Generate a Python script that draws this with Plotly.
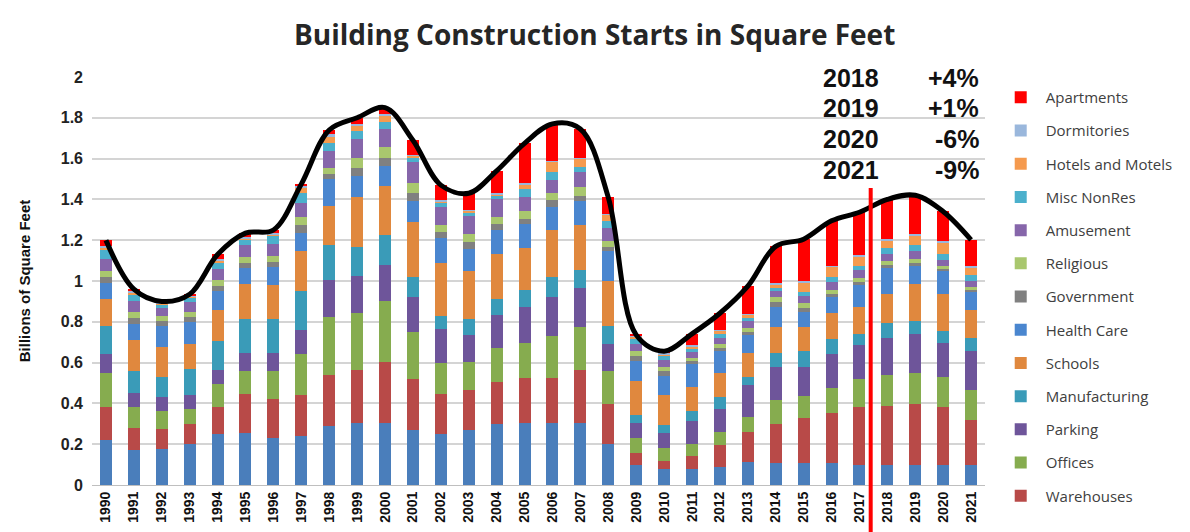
import numpy as np
import plotly.graph_objects as go

years = [str(y) for y in range(1990, 2022)]

# Series values in billions of sq ft (bottom of stack first)
stores        = [0.22,0.17,0.175,0.20,0.25,0.255,0.23,0.24,0.29,0.305,0.305,0.27,0.25,0.27,0.30,0.305,0.305,0.305,0.20,0.10,0.077,0.077,0.09,0.115,0.11,0.11,0.11,0.10,0.10,0.10,0.10,0.10]
warehouses    = [0.16,0.11,0.10,0.10,0.13,0.19,0.19,0.20,0.25,0.26,0.30,0.25,0.195,0.195,0.205,0.22,0.22,0.26,0.195,0.057,0.04,0.065,0.105,0.145,0.19,0.22,0.245,0.28,0.285,0.295,0.28,0.22]
offices       = [0.17,0.10,0.09,0.075,0.115,0.115,0.14,0.20,0.285,0.28,0.295,0.23,0.155,0.14,0.165,0.17,0.205,0.21,0.165,0.074,0.065,0.057,0.065,0.075,0.115,0.105,0.12,0.14,0.155,0.155,0.147,0.147]
parking       = [0.09,0.07,0.065,0.065,0.07,0.085,0.085,0.12,0.18,0.18,0.18,0.17,0.165,0.13,0.165,0.18,0.19,0.19,0.13,0.074,0.074,0.115,0.115,0.155,0.165,0.145,0.165,0.165,0.18,0.19,0.17,0.19]
manufacturing = [0.14,0.11,0.10,0.13,0.14,0.17,0.17,0.19,0.17,0.14,0.145,0.10,0.065,0.08,0.075,0.08,0.10,0.09,0.09,0.04,0.04,0.05,0.057,0.04,0.065,0.075,0.075,0.057,0.075,0.065,0.057,0.065]
schools       = [0.13,0.15,0.145,0.12,0.155,0.17,0.165,0.195,0.195,0.245,0.24,0.27,0.26,0.235,0.22,0.205,0.23,0.22,0.22,0.163,0.147,0.115,0.115,0.115,0.13,0.12,0.13,0.13,0.14,0.18,0.18,0.135]
health_care   = [0.08,0.08,0.105,0.11,0.09,0.08,0.09,0.09,0.13,0.105,0.10,0.10,0.12,0.105,0.12,0.12,0.115,0.115,0.145,0.10,0.09,0.115,0.11,0.09,0.10,0.075,0.075,0.11,0.13,0.09,0.115,0.09]
government    = [0.03,0.03,0.025,0.025,0.025,0.025,0.025,0.04,0.025,0.04,0.04,0.04,0.03,0.035,0.03,0.025,0.03,0.025,0.02,0.025,0.025,0.015,0.015,0.015,0.02,0.02,0.015,0.015,0.015,0.015,0.01,0.01]
religious     = [0.03,0.03,0.025,0.025,0.03,0.03,0.03,0.04,0.03,0.05,0.05,0.05,0.035,0.04,0.035,0.04,0.035,0.045,0.03,0.025,0.02,0.015,0.02,0.02,0.025,0.02,0.02,0.02,0.02,0.02,0.015,0.015]
amusement     = [0.06,0.05,0.04,0.045,0.055,0.055,0.055,0.065,0.08,0.09,0.09,0.105,0.09,0.09,0.085,0.065,0.065,0.075,0.065,0.033,0.033,0.03,0.03,0.035,0.03,0.035,0.04,0.035,0.03,0.035,0.03,0.03]
misc_nonres   = [0.04,0.03,0.015,0.02,0.03,0.025,0.04,0.05,0.04,0.04,0.035,0.02,0.015,0.015,0.015,0.04,0.04,0.025,0.035,0.025,0.02,0.015,0.02,0.015,0.015,0.02,0.025,0.02,0.03,0.03,0.03,0.025]
hotels        = [0.01,0.01,0.005,0.01,0.01,0.01,0.01,0.025,0.03,0.025,0.03,0.01,0.01,0.01,0.01,0.025,0.05,0.04,0.03,0.01,0.01,0.01,0.015,0.015,0.02,0.05,0.05,0.05,0.04,0.05,0.055,0.04]
dormitories   = [0.01,0.01,0.005,0.005,0.01,0.005,0.005,0.01,0.015,0.01,0.01,0.005,0.005,0.005,0.005,0.005,0.005,0.005,0.005,0.005,0.005,0.005,0.005,0.005,0.005,0.005,0.005,0.005,0.005,0.005,0.005,0.005]
apartments    = [0.03,0.01,0.005,0.005,0.02,0.02,0.015,0.01,0.02,0.03,0.03,0.07,0.075,0.08,0.11,0.195,0.18,0.14,0.08,0.005,0.01,0.057,0.08,0.135,0.18,0.205,0.22,0.21,0.195,0.19,0.147,0.13]

series = [
    ("Stores", stores, "#4A7EBB", False),
    ("Warehouses", warehouses, "#B84A48", True),
    ("Offices", offices, "#86AC4F", True),
    ("Parking", parking, "#6E559A", True),
    ("Manufacturing", manufacturing, "#3A9BB8", True),
    ("Schools", schools, "#E0883E", True),
    ("Health Care", health_care, "#4A86CF", True),
    ("Government", government, "#808080", True),
    ("Religious", religious, "#A9C76E", True),
    ("Amusement", amusement, "#8666AA", True),
    ("Misc NonRes", misc_nonres, "#4BB0CC", True),
    ("Hotels and Motels", hotels, "#F59A4E", True),
    ("Dormitories", dormitories, "#9AB7DC", True),
    ("Apartments", apartments, "#FF0000", True),
]

note_years = ["2018", "2019", "2020", "2021"]
note_changes = ["+4%", "+1%", "-6%", "-9%"]

fig = go.Figure()
n = len(series)
for i, (name, vals, color, show) in enumerate(series):
    fig.add_trace(go.Bar(
        x=years, y=vals, name=name, marker=dict(color=color, line=dict(width=0)),
        showlegend=show, legendgroup=name, legendrank=100 + (n - i),
    ))

totals = np.sum([s[1] for s in series], axis=0)
fig.add_trace(go.Scatter(
    x=years, y=totals, mode="lines", line=dict(color="black", width=5, shape="spline", smoothing=1.0),
    showlegend=False, hoverinfo="skip",
))

# Annotations (percent change forecast)
ys = [1.995, 1.848, 1.696, 1.544]
for yr, ch, yy in zip(note_years, note_changes, ys):
    fig.add_annotation(x=0.85, y=yy, xref="paper", yref="y", text=yr, showarrow=False,
                       xanchor="center", yanchor="middle",
                       font=dict(family="Liberation Sans, Arial", size=25, color="#111111", weight="bold"))
    fig.add_annotation(x=0.996, y=yy, xref="paper", yref="y", text=ch, showarrow=False,
                       xanchor="right", yanchor="middle",
                       font=dict(family="Liberation Sans, Arial", size=25, color="#111111", weight="bold"))

# red divider between actuals and forecasts
fig.add_shape(type="line", xref="paper", yref="paper", x0=0.872, x1=0.872, y0=-0.14, y1=0.728,
              line=dict(color="#FF0000", width=4), layer="above")

fig.update_layout(
    width=1190, height=532,
    margin=dict(l=84, r=213, t=69, b=55, autoexpand=False),
    paper_bgcolor="white", plot_bgcolor="white",
    barmode="stack", bargap=0.57,
    title=dict(text="Building Construction Starts in Square Feet", x=0.493, xanchor="center",
               y=0.948, yanchor="middle",
               font=dict(family="Open Sans, sans-serif", size=28, color="#262626", weight="bold")),
    legend=dict(x=1.012, xanchor="left", y=0.99, yanchor="top", traceorder="grouped",
                tracegroupgap=10.7, maxheight=520,
                font=dict(family="Open Sans, sans-serif", size=15, color="#404040"),
                itemwidth=40, bgcolor="rgba(0,0,0,0)"),
    yaxis=dict(range=[0, 2], dtick=0.2, showgrid=True, gridcolor="#D4D4D4", gridwidth=2,
               zeroline=False, showline=False, ticks="", ticklen=0, ticklabelstandoff=8,
               tickfont=dict(family="Liberation Sans, Arial", size=16, color="#222222", weight="bold"),
               title=dict(text="Billions of Square Feet", standoff=26,
                          font=dict(family="Liberation Sans, Arial", size=15, color="#111111", weight="bold"))),
    xaxis=dict(type="category", tickangle=-90, showline=True, linecolor="#BFBFBF", linewidth=1,
               ticks="", tickfont=dict(family="Liberation Sans, Arial", size=14, color="#111111", weight="bold")),
)

fig.write_html("out.html")
